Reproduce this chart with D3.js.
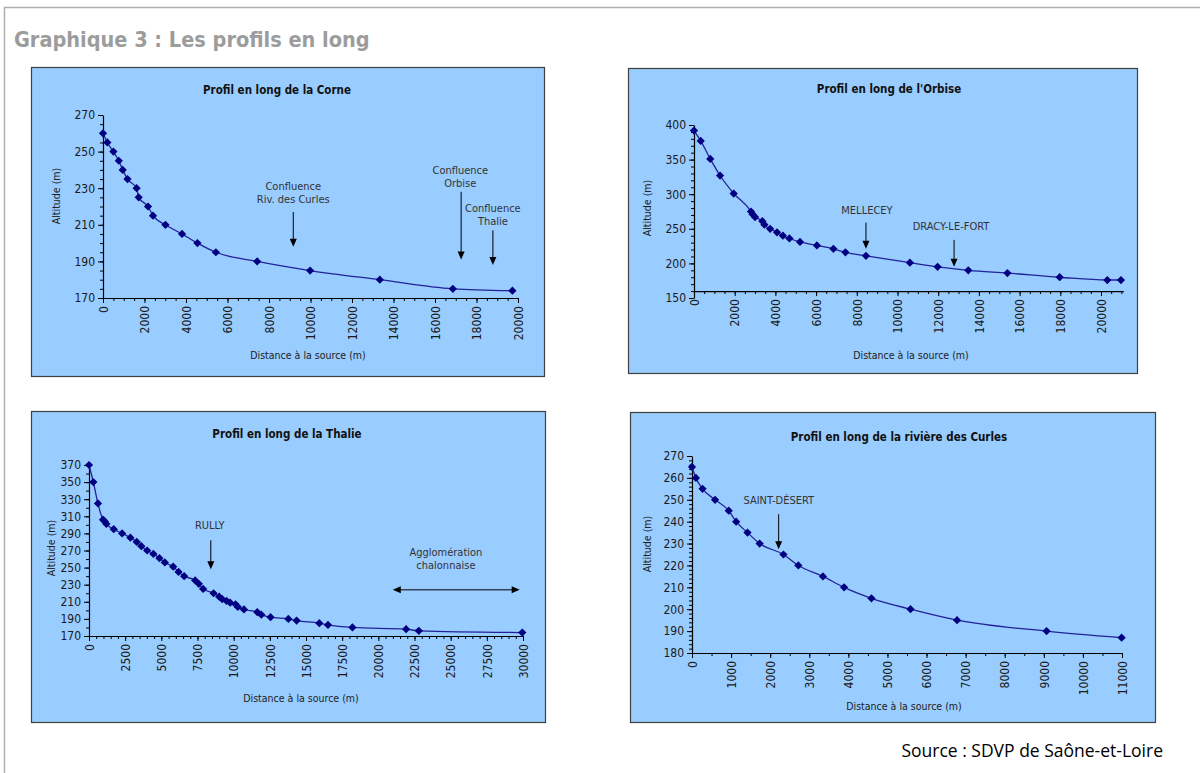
<!DOCTYPE html>
<html>
<head>
<meta charset="utf-8">
<script src="https://cdn.jsdelivr.net/npm/d3@7"></script>
<style>
  body { margin: 0; background: #fff; }
  svg text { font-family: "DejaVu Sans Condensed", "DejaVu Sans", sans-serif; font-stretch: condensed; }
</style>
</head>
<body>
<svg id="chart" width="1200" height="773"></svg>
<script>
// --- values ---
const corneDist = [0, 210, 500, 760, 950, 1180, 1620, 1720, 2170, 2410, 3010, 3810, 4550, 5440, 7430, 9980, 13340, 16860, 19730];
const corneAlt  = [260, 255, 250, 245, 240, 235, 230, 225, 220, 215, 210, 205, 200, 195, 190, 185, 180, 175, 174];

const orbiseDist = [0, 330, 800, 1280, 1950, 2800, 2880, 3000, 3360, 3460, 3740, 4080, 4370, 4690, 5210, 6040, 6850, 7440, 8450, 10610, 11970, 13480, 15400, 17970, 20310, 20980];
const orbiseAlt  = [392, 377, 351, 327, 301, 275, 271, 267, 261, 256, 250, 245, 240, 236, 231, 226, 221, 216, 211, 201, 195, 190, 186, 180, 176, 176];

const thalieDist = [0, 300, 620, 970, 1090, 1200, 1710, 2290, 2860, 3300, 3620, 4020, 4450, 4870, 5240, 5820, 6190, 6580, 7340, 7590, 7890, 8610, 9000, 9210, 9510, 9760, 10130, 10290, 10710, 11630, 11910, 12550, 13780, 14350, 15920, 16520, 18210, 21920, 22800, 29950];
const thalieAlt  = [370, 350, 325, 306, 304, 301, 295, 290, 285, 280, 275, 270, 266, 261, 256, 251, 245, 240, 235, 231, 225, 220, 216, 213, 211, 209, 207, 204, 201, 198, 195, 192, 190, 188, 185, 183, 180, 178, 176, 174];

const curlesDist = [0, 100, 270, 590, 940, 1130, 1420, 1730, 2340, 2720, 3350, 3890, 4590, 5590, 6780, 9070, 10990];
const curlesAlt  = [265, 260, 255, 250, 245, 240, 235, 230, 225, 220, 215, 210, 205, 200, 195, 190, 187];

// annotations (data units)
const corneNotes = [
  {lines: ["Confluence", "Riv. des Curles"], x: 9170, y: [230.6, 223.5], arrowX: 9170, arrowTop: 217, arrowTip: 198},
  {lines: ["Confluence", "Orbise"], x: 17220, y: [239.3, 232.2], arrowX: 17260, arrowTop: 228, arrowTip: 191},
  {lines: ["Confluence", "Thalie"], x: 18790, y: [218.7, 211.6], arrowX: 18790, arrowTop: 207, arrowTip: 188}
];
const orbiseNotes = [
  {lines: ["MELLECEY"], x: 8500, y: [276], arrowX: 8450, arrowTop: 259, arrowTip: 221},
  {lines: ["DRACY-LE-FORT"], x: 12630, y: [252], arrowX: 12780, arrowTop: 234, arrowTip: 195}
];
const thalieNotes = [
  {lines: ["RULLY"], x: 8350, y: [298.5], arrowX: 8420, arrowTop: 282, arrowTip: 248},
  {lines: ["Agglomération", "chalonnaise"], x: 24670, y: [267.3, 252]}
];
const thalieSpan = {x1: 21000, x2: 29770, y: 224};
const curlesNotes = [
  {lines: ["SAINT-DÉSERT"], x: 2220, y: [249.4], arrowX: 2217, arrowTop: 243.4, arrowTip: 227.4}
];

const mainTitle = "Graphique 3 : Les profils en long";
const sourceText = "Source : SDVP de Saône-et-Loire";
const xTitle = "Distance à la source (m)";
const yTitle = "Altitude (m)";

const svg = d3.select("#chart");

// outer frame of the page (only top and left are visible)
svg.append("rect")
  .attr("x", 4.5).attr("y", 7.5)
  .attr("width", 1400).attr("height", 900)
  .attr("fill", "none").attr("stroke", "#b0b0b0").attr("stroke-width", 1.5);

svg.append("text")
  .attr("x", 14).attr("y", 47)
  .attr("font-size", 21.5).attr("font-weight", "bold")
  .attr("fill", "#9c9c9c")
  .text(mainTitle);

svg.append("text")
  .attr("x", 1163).attr("y", 757)
  .attr("text-anchor", "end")
  .style("font-family", "'Open Sans', 'Noto Sans', sans-serif")
  .style("font-stretch", "normal")
  .attr("font-size", 17.5).attr("fill", "#000")
  .text(sourceText);

const panels = [
  {title: "Profil en long de la Corne", dist: corneDist, alt: corneAlt, notes: corneNotes,
   frame: [31, 67, 544, 376], xPx: [103, 518], xRef: 20000, xMax: 20000, yPx: [298, 115],
   yDomain: [170, 270], xCross: 170, yStep: 20, yMinor: 5, xStep: 2000, xMinor: 500,
   titlePos: [277, 90], xTitlePos: [308, 356], yTitlePos: [57, 196]},
  {title: "Profil en long de l'Orbise", dist: orbiseDist, alt: orbiseAlt, notes: orbiseNotes,
   frame: [628, 68, 1137, 373], xPx: [694, 1101], xRef: 20000, xMax: 21100, yPx: [298, 125],
   yDomain: [150, 400], xCross: 160, yStep: 50, yMinor: 10, xStep: 2000, xMinor: 500,
   titlePos: [889, 89], xTitlePos: [911, 356], yTitlePos: [648, 208]},
  {title: "Profil en long de la Thalie", dist: thalieDist, alt: thalieAlt, notes: thalieNotes, span: thalieSpan,
   frame: [31, 411, 545, 722], xPx: [89, 523], xRef: 30000, xMax: 30000, yPx: [636, 465],
   yDomain: [170, 370], xCross: 170, yStep: 20, yMinor: 10, xStep: 2500, xMinor: 500,
   titlePos: [287, 434], xTitlePos: [301, 699], yTitlePos: [52, 548]},
  {title: "Profil en long de la rivière des Curles", dist: curlesDist, alt: curlesAlt, notes: curlesNotes,
   frame: [630, 412, 1155, 722], xPx: [692, 1122], xRef: 11000, xMax: 11000, yPx: [653, 456],
   yDomain: [180, 270], xCross: 180, yStep: 10, yMinor: 2, xStep: 1000, xMinor: 500,
   titlePos: [899, 437], xTitlePos: [904, 707], yTitlePos: [648, 544]}
];

panels.forEach(drawPanel);

function arrowHead(g, x, y, dir) {
  // small filled triangle with its tip at (x,y)
  let p;
  if (dir === "down") p = [[x, y], [x - 3.5, y - 8], [x + 3.5, y - 8]];
  else if (dir === "left") p = [[x, y], [x + 8, y - 3.5], [x + 8, y + 3.5]];
  else p = [[x, y], [x - 8, y - 3.5], [x - 8, y + 3.5]];
  g.append("path").attr("d", "M" + p.join("L") + "Z").attr("fill", "#000");
}

function drawPanel(p) {
  const g = svg.append("g");
  const f = p.frame;

  g.append("rect")
    .attr("x", f[0] + 0.5).attr("y", f[1] + 0.5)
    .attr("width", f[2] - f[0]).attr("height", f[3] - f[1])
    .attr("fill", "#99ccff").attr("stroke", "#404040").attr("stroke-width", 1.2);

  const xEnd = p.xPx[0] + (p.xPx[1] - p.xPx[0]) * p.xMax / p.xRef;
  const x = d3.scaleLinear().domain([0, p.xMax]).range([p.xPx[0], xEnd]);
  const y = d3.scaleLinear().domain(p.yDomain).range(p.yPx);
  const fmt = d3.format("d");

  // minor ticks
  g.append("g")
    .attr("transform", "translate(" + x(0) + ",0)")
    .call(d3.axisLeft(y).tickValues(d3.range(p.yDomain[0], p.yDomain[1] + 0.01, p.yMinor)).tickSize(3).tickFormat(""))
    .call(a => a.select(".domain").remove());
  g.append("g")
    .attr("transform", "translate(0," + y(p.xCross) + ")")
    .call(d3.axisBottom(x).tickValues(d3.range(0, p.xMax + 0.01, p.xMinor)).tickSize(3).tickFormat(""))
    .call(a => a.select(".domain").remove());

  // y axis
  const ya = g.append("g")
    .attr("transform", "translate(" + x(0) + ",0)")
    .call(d3.axisLeft(y).tickValues(d3.range(p.yDomain[0], p.yDomain[1] + 0.01, p.yStep))
      .tickFormat(fmt).tickSize(5).tickSizeOuter(0).tickPadding(3));
  ya.selectAll("text").attr("font-size", 12).attr("fill", "#1a1a1a");

  // x axis, labels turned
  const xa = g.append("g")
    .attr("transform", "translate(0," + y(p.xCross) + ")")
    .call(d3.axisBottom(x).tickValues(d3.range(0, p.xMax + 0.01, p.xStep))
      .tickFormat(fmt).tickSize(5).tickSizeOuter(0));
  xa.selectAll("text")
    .attr("transform", "rotate(-90)")
    .attr("text-anchor", "end")
    .attr("x", -8).attr("y", 0).attr("dy", "0.35em")
    .attr("font-size", 12).attr("fill", "#1a1a1a");
  g.selectAll(".domain").attr("stroke", "#000").attr("stroke-width", 1.2);
  g.selectAll(".tick line").attr("stroke", "#000");

  // titles
  g.append("text").attr("x", p.titlePos[0]).attr("y", p.titlePos[1])
    .attr("text-anchor", "middle").attr("dominant-baseline", "middle")
    .attr("font-size", 11.5).attr("font-weight", "bold").attr("fill", "#111")
    .text(p.title);
  g.append("text").attr("x", p.xTitlePos[0]).attr("y", p.xTitlePos[1])
    .attr("text-anchor", "middle").attr("dominant-baseline", "middle")
    .attr("font-size", 10.5).attr("fill", "#222")
    .text(xTitle);
  g.append("text")
    .attr("transform", "translate(" + p.yTitlePos[0] + "," + p.yTitlePos[1] + ") rotate(-90)")
    .attr("text-anchor", "middle").attr("dominant-baseline", "middle")
    .attr("font-size", 10.5).attr("fill", "#222")
    .text(yTitle);

  // profile line and markers
  const pts = p.dist.map((d, i) => [d, p.alt[i]]);
  g.append("path")
    .datum(pts)
    .attr("d", d3.line().x(d => x(d[0])).y(d => y(d[1])).curve(d3.curveMonotoneX))
    .attr("fill", "none").attr("stroke", "#22229a").attr("stroke-width", 1.3);
  g.selectAll(".pt")
    .data(pts)
    .enter().append("path")
    .attr("class", "pt")
    .attr("d", d3.symbol(d3.symbolSquare, 34))
    .attr("transform", d => "translate(" + x(d[0]) + "," + y(d[1]) + ") rotate(45)")
    .attr("fill", "#000080");

  // annotations
  p.notes.forEach(n => {
    n.lines.forEach((t, i) => {
      g.append("text").attr("x", x(n.x)).attr("y", y(n.y[i]))
        .attr("text-anchor", "middle").attr("dominant-baseline", "middle")
        .attr("font-size", 11).attr("fill", "#333")
        .text(t);
    });
    if (n.arrowX !== undefined) {
      g.append("line")
        .attr("x1", x(n.arrowX)).attr("x2", x(n.arrowX))
        .attr("y1", y(n.arrowTop)).attr("y2", y(n.arrowTip) - 6)
        .attr("stroke", "#000").attr("stroke-width", 1);
      arrowHead(g, x(n.arrowX), y(n.arrowTip), "down");
    }
  });
  if (p.span) {
    g.append("line")
      .attr("x1", x(p.span.x1) + 6).attr("x2", x(p.span.x2) - 6)
      .attr("y1", y(p.span.y)).attr("y2", y(p.span.y))
      .attr("stroke", "#000").attr("stroke-width", 1);
    arrowHead(g, x(p.span.x1), y(p.span.y), "left");
    arrowHead(g, x(p.span.x2), y(p.span.y), "right");
  }
}
</script>
</body>
</html>
